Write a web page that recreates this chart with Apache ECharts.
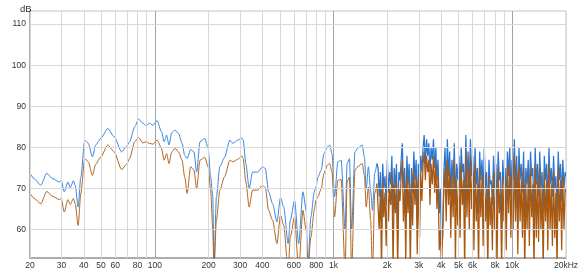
<!DOCTYPE html>
<html>
<head>
<meta charset="utf-8">
<script src="https://cdn.jsdelivr.net/npm/echarts@6/dist/echarts.min.js"></script>
<style>html,body{margin:0;padding:0;background:#fff}#c{width:581px;height:275px}</style>
</head>
<body>
<div id="c"></div>
<script>
// ---- low-frequency part (Hz, dB) ----
const lfFreq = [20,21.1,23,24.8,26.8,29.2,29.9,31.1,32.6,33.6,35,35.8,37.2,38.5,40.5,42.4,44.7,46.6,49.8,54.5,59.2,65.2,69.4,72.2,77.1,81,85.6,89.5,93.3,97.4,102.9,108.9,112.6,116.3,119.9,124.3,129.8,135.6,141.9,146.9,151.5,158.5,165.5,171.3,178.9,190.1,198.7,205.1,211,214,221,231,245,263,273,291,307,312,323,337,352,376,401,415,433,456,482,505,526,557,573,605,638,674,703,717,747,780,797,818,853,884,923,951,980,1013,1057,1103,1160,1191,1227,1262,1318,1364,1447,1488,1524,1567,1612,1652,1700,1749];
const lfBlue = [73.7,72.4,70.8,73.7,72.4,71.6,71.9,69.2,71.6,70.2,71.9,70.8,65.5,72.8,81.8,81.0,77.7,80.6,82.2,84.6,82.6,78.9,80.3,81.4,85.0,86.9,85.9,85.3,85.9,85.4,86.5,83.8,81.4,83.0,80.6,83.6,84.2,83.4,81.0,78.1,77.3,79.5,78.9,74.0,81.4,82.2,79.8,72.8,68.0,50,68.0,75.3,77.5,81.8,81.0,81.8,82.3,81.8,76.1,70.0,74.0,74.0,75.3,74.9,69.2,66.3,61.9,67.8,65.5,56.6,62.3,67.1,56.6,69.2,64.7,50,63.1,69.2,70.4,72.8,74.5,78.5,80.1,80.6,78.5,68.0,76.5,76.9,60,76.1,77.3,60,78.9,79.8,80.6,77.7,70.0,75.3,69.6,64.7,73.7,76.1];
const lfBrown = [68.9,67.6,66.3,69.3,68.1,67.3,67.6,64.3,67.3,66.1,67.6,66.3,61.0,68.8,77.3,76.5,73.2,75.9,77.7,80.6,78.9,74.6,75.9,77.3,81.4,82.4,81.1,81.4,81.0,80.8,81.8,79.8,76.9,78.5,76.1,78.9,79.8,78.9,76.9,72.8,68.8,75.3,74.5,70.0,76.9,77.6,75.3,69.6,60,50,62.3,69.6,72.8,76.9,76.5,77.1,77.9,77.3,71.6,65.5,69.6,69.6,70.8,70.2,64.7,62.3,56.6,63.5,61.0,50,58.2,63.1,50,64.7,59.8,50,58.2,64.7,67.1,68.0,70.0,73.7,75.7,76.1,74.0,63.1,72.0,72.2,50,71.6,72.8,50,74.5,75.3,76.1,73.2,65.5,70.4,62.3,50,68.8,71.2];

// ---- high-frequency part (Hz, dB) ----
const hfFreq = [
 1749,
 1775,1800,1830,1855,1885,1910,1940,1970,2000,2030,
 2060,2090,2120,2155,2185,2220,2250,2285,2320,2355,
 2390,2425,2460,2500,2535,2575,2610,2650,2690,2730,
 2770,2815,2855,2900,2940,2985,3030,3075,3120,3170,
 3215,3265,3315,3365,3415,3465,3515,3570,3625,3680,
 3735,3790,3845,3905,3960,4020,4080,4145,4205,4270,
 4335,4400,4465,4530,4600,4670,4740,4810,4880,4955,
 5030,5105,5180,5260,5340,5420,5500,5580,5665,5750,
 5835,5925,6015,6105,6195,6290,6385,6480,6575,6675,
 6775,6875,6980,7085,7190,7300,7410,7520,7630,7745,
 7860,7980,8100,8220,8345,8470,8595,8725,8855,8990,
 9125,9260,9400,9540,9685,9830,9975,10125,10280,10430,
 10590,10750,10910,11070,11240,11410,11580,11750,11930,12110,
 12290,12470,12660,12850,13040,13240,13440,13640,13840,14050,
 14260,14470,14690,14910,15130,15360,15590,15820,16060,16300,
 16540,16790,17040,17300,17560,17820,18090,18360,18630,18910,
 19200,19490,19780,20000];
const hfBlue = [
 76.1,
 75,68,74,62,76,70,73,66,77,69,
 74,71,78,64,75,70,76,58,74,72,
 77,81,70,75,63,78,71,76,60,75,
 69,79,72,77,62,76,70,78,74,80,
 83,76,82,78,81,74,80,77,82,75,
 80,72,77,64,70,56,58,74,80,70,
 82,73,79,68,77,71,81,66,76,72,
 78,69,80,74,76,65,83,72,79,70,
 82,73,78,67,80,71,75,64,79,72,
 77,68,80,70,74,62,77,71,72,66,
 78,70,76,65,79,72,74,60,77,71,
 75,66,79,73,80,68,77,72,82,70,
 78,65,80,72,76,69,79,63,75,71,
 77,67,79,73,75,62,80,71,76,68,
 79,70,74,64,78,72,76,66,80,71,
 75,68,78,70,73,63,79,72,76,67,
 77,70,74,73];
const hfBrown = [
 71.2,
 71,60,70,50,72,63,69,56,73,62,
 70,66,74,50,71,64,72,50,70,67,
 73,77,62,71,52,74,64,72,50,71,
 61,75,66,73,54,72,58,74,67,76,
 79,72,78,74,77,66,76,71,78,69,
 76,65,73,55,60,50,50,70,75,62,
 77,66,75,58,73,63,77,52,72,61,
 74,58,76,66,72,50,79,63,75,60,
 78,65,74,55,76,62,71,50,75,63,
 73,56,75,62,70,50,73,61,68,55,
 74,60,72,50,75,64,70,50,73,62,
 71,55,75,64,76,58,73,60,78,62,
 74,54,76,62,72,58,75,50,71,60,
 73,56,75,63,71,50,76,58,72,57,
 75,60,70,50,74,62,72,55,76,60,
 71,56,74,58,69,50,75,62,72,55,
 73,60,70,69];

// ---- axes ----
const gridFreqs = [20,30,40,50,60,70,80,90,100,200,300,400,500,600,700,800,900,1000,2000,3000,4000,5000,6000,7000,8000,9000,10000,20000];
const majorFreqs = [100,1000,10000];
const xTickFreqs = [20,30,40,50,60,80,100,200,300,400,600,800,1000,2000,3000,4000,5000,6000,8000,10000,20000];
const xTickLabels = ['20','30','40','50','60','80','100','200','300','400','600','800','1k','2k','3k','4k','5k','6k','8k','10k','20kHz'];
const yTicks = [60,70,80,90,100,110];

const font = {color:'#333', fontSize:8.5, fontFamily:'Liberation Sans'};
const pairs = (f, v) => f.map((x, i) => [x, v[i]]);

const marks = [];
gridFreqs.forEach(f => {
  const i = xTickFreqs.indexOf(f);
  marks.push({xAxis: f,
    lineStyle:{color: majorFreqs.includes(f) ? '#a4a4a4' : '#d8d8d8', width:1, type:'solid'},
    label: i >= 0 ? Object.assign({show:true, formatter: xTickLabels[i], position:'start', distance:3}, font) : {show:false}});
});
yTicks.forEach(v => {
  marks.push({yAxis: v, lineStyle:{color:'#d8d8d8', width:1, type:'solid'},
    label: Object.assign({show:true, formatter:String(v), position:'start', distance:4}, font)});
});

const blueC = '#3a86dc', brownC = '#b1651f';
const chart = echarts.init(document.getElementById('c'), null, {renderer:'canvas'});
chart.setOption({
  animation:false,
  backgroundColor:'#fff',
  title:{text:'dB', left:15, top:-1, textStyle:{fontSize:9.5, fontWeight:'normal', color:'#333', fontFamily:'Liberation Sans'}},
  grid:{left:30, top:11, right:15, bottom:17, show:true, borderColor:'#c4c4c4', borderWidth:1},
  xAxis:{type:'log', logBase:10, min:20, max:20000,
    axisLabel:{show:false}, axisTick:{show:false}, splitLine:{show:false}, minorSplitLine:{show:false},
    axisLine:{show:true, onZero:false, lineStyle:{color:'#acacac', width:2}}},
  yAxis:{type:'value', min:53.1, max:113.2,
    axisLabel:{show:false}, axisTick:{show:false}, splitLine:{show:false},
    axisLine:{show:true, onZero:false, lineStyle:{color:'#acacac', width:2}}},
  series:[
    {type:'line', data:[], silent:true, z:1,
      markLine:{silent:true, symbol:'none', animation:false, data:marks}},
    {type:'line', z:2, showSymbol:false, symbol:'none', clip:true, smooth:0.25, smoothMonotone:'x',
      lineStyle:{color:blueC, width:1}, itemStyle:{color:blueC}, data: pairs(lfFreq, lfBlue)},
    {type:'line', z:2, showSymbol:false, symbol:'none', clip:true,
      lineStyle:{color:'#2a76d4', width:1.25}, itemStyle:{color:'#2a76d4'}, data: pairs(hfFreq, hfBlue)},
    {type:'line', z:3, showSymbol:false, symbol:'none', clip:true, smooth:0.25, smoothMonotone:'x',
      lineStyle:{color:brownC, width:1}, itemStyle:{color:brownC}, data: pairs(lfFreq, lfBrown)},
    {type:'line', z:3, showSymbol:false, symbol:'none', clip:true,
      lineStyle:{color:'#a8580f', width:1.25}, itemStyle:{color:'#a8580f'}, data: pairs(hfFreq, hfBrown)}
  ]
});
</script>
</body>
</html>
